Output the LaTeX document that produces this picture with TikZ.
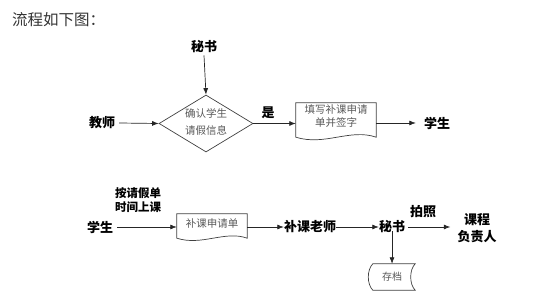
\documentclass[tikz,border=0pt]{standalone}
\usepackage{fontspec}
\setmainfont{Noto Sans CJK SC}
\usetikzlibrary{shapes.geometric,arrows.meta}
\begin{document}
\begin{tikzpicture}[x=1pt,y=-1pt,
  lbl/.style={font=\fontsize{13}{17}\selectfont\bfseries, inner sep=0pt, align=center},
  note/.style={font=\fontsize{11.5}{14}\selectfont\bfseries, inner sep=0pt, align=center},
  inner/.style={font=\fontsize{10.5}{13}\selectfont, text=black!65, align=center, inner sep=0pt},
  conn/.style={draw=black!85, line width=0.7pt, -{Latex[length=6.5pt,width=5pt]}},
  shp/.style={draw=black!75, line width=0.7pt}
]
\useasboundingbox (0,0) rectangle (554,299);
\node[anchor=west, font=\fontsize{15.5}{17}\selectfont, text=black!80, inner sep=0pt] (title) at (12,19.5) {流程如下图：};

% top row
\node[lbl] (ms1) at (204,47) {秘书};
\node[lbl] (js) at (102,123) {教师};
\node[shape=diamond, shp, minimum width=94pt, minimum height=57pt, inner sep=0pt] (dm) at (206,123.5) {};
\node[inner, font=\fontsize{10.5}{17}\selectfont] (dmt) at (206,121.5) {确认学生\\请假信息};
\node[lbl] (shi) at (268,113) {是};
\node[minimum width=80pt, minimum height=34pt, inner sep=0pt] (doc1) at (336,120) {};
\draw[shp] (doc1.north west) -- (doc1.north east) -- (doc1.south east)
  .. controls +(-26,-9) and +(29,9) .. (doc1.south west) -- cycle;
\node[inner, font=\fontsize{10.5}{12.5}\selectfont] (doc1t) at (336,116) {填写补课申请\\单并签字};
\node[lbl] (xs1) at (437,123) {学生};

\draw[conn] (ms1.south) ++(0,2) -- (dm.north);
\draw[conn] (js.east) ++(4,0) -- (dm.west);
\draw[conn] (dm.east) -- (dm.east -| doc1.west);
\draw[conn] (doc1.east |- xs1) -- ([xshift=-8pt]xs1.west);

% bottom row
\node[lbl] (xs2) at (100,227) {学生};
\node[note] (aq) at (138,200) {按请假单\\时间上课};
\node[minimum width=70pt, minimum height=24pt, inner sep=0pt] (doc2) at (212,226) {};
\draw[shp] (doc2.north west) -- (doc2.north east) -- (doc2.south east)
  .. controls +(-22,-8) and +(25,8) .. (doc2.south west) -- cycle;
\node[inner] (doc2t) at (212,223.5) {补课申请单};
\node[lbl] (bk) at (310,227) {补课老师};
\node[lbl] (ms2) at (392,227) {秘书};
\node[lbl] (pz) at (423,212) {拍照};
\node[lbl] (fz) at (477,228.5) {课程\\负责人};
\node[minimum width=42pt, minimum height=26pt, inner sep=0pt] (cd) at (394,277) {};
\draw[shp] (cd.north west) -- (cd.north east)
  .. controls +(-6,6) and +(-6,-6) .. (cd.south east) -- (cd.south west)
  .. controls +(-6,-6) and +(-6,6) .. (cd.north west) -- cycle;
\node[inner, font=\fontsize{10}{12}\selectfont] (cdt) at (392,277) {存档};

\draw[conn] ([xshift=4pt]xs2.east) -- (xs2.east -| doc2.west);
\draw[conn] (doc2.east |- bk) -- (bk.west);
\draw[conn] (bk.east) -- (ms2.west);
\draw[conn] ([xshift=3pt]ms2.east) -- ([xshift=-7pt]fz.west |- ms2);
\draw[conn] ([yshift=2pt]ms2.south) -- (ms2.south |- cd.north);
\end{tikzpicture}
\end{document}
